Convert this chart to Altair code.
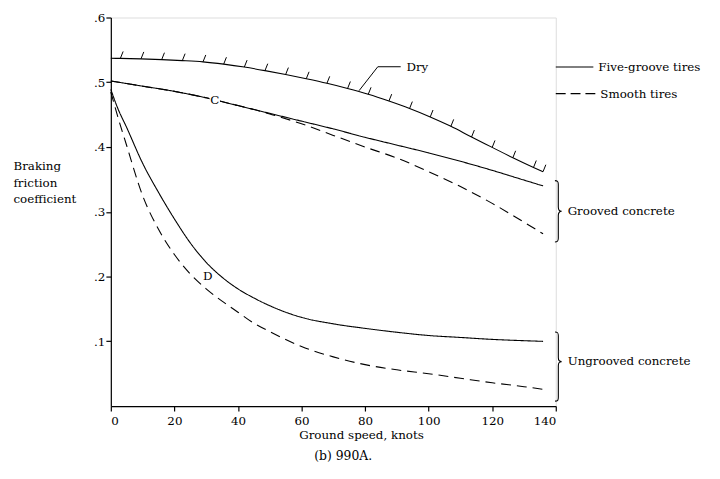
import altair as alt
import pandas as pd

FONT = "DejaVu Serif"

# ---- data ----
dry_speed = [0, 3, 9.5, 16, 22.5, 29, 35.5, 42, 48.5, 55, 61.5, 68, 74.5, 81, 87.5, 94, 100.5, 107, 113.5, 120, 126.5, 133, 136]
dry_value = [0.537, 0.5369, 0.5362, 0.5350, 0.5335, 0.5315, 0.528, 0.5235, 0.518, 0.512, 0.5055, 0.4985, 0.4905, 0.4815, 0.471, 0.4595, 0.4465, 0.432, 0.4155, 0.3995, 0.3835, 0.3685, 0.362]

c_speed = [0, 10, 20, 30, 40, 45, 50, 60, 70, 80, 90, 100, 110, 120, 130, 136]
c_five = [0.502, 0.494, 0.486, 0.476, 0.464, 0.458, 0.452, 0.440, 0.428, 0.415, 0.403, 0.391, 0.378, 0.364, 0.349, 0.340]
c_smooth = [0.502, 0.494, 0.486, 0.476, 0.464, 0.458, 0.451, 0.436, 0.418, 0.400, 0.383, 0.362, 0.339, 0.313, 0.284, 0.266]

d_speed = [0, 2, 5, 10, 15, 20, 25, 30, 35, 40, 45, 50, 60, 70, 80, 90, 100, 110, 120, 130, 136]
d_five = [0.489, 0.462, 0.430, 0.375, 0.330, 0.289, 0.252, 0.222, 0.199, 0.181, 0.167, 0.155, 0.137, 0.127, 0.120, 0.114, 0.109, 0.106, 0.103, 0.101, 0.100]
d_smooth = [0.485, 0.450, 0.402, 0.325, 0.273, 0.234, 0.204, 0.181, 0.162, 0.145, 0.128, 0.115, 0.092, 0.076, 0.064, 0.056, 0.050, 0.043, 0.036, 0.030, 0.026]

tires = ["Five-groove tires", "Smooth tires"]
x_tick_values = [0, 20, 40, 60, 80, 100, 120, 140]
y_tick_values = [0.1, 0.2, 0.3, 0.4, 0.5, 0.6]

leader_speed = [78.1, 84.0, 91.2]
leader_value = [0.487, 0.524, 0.524]

curve_labels = ["C", "D"]
curve_label_speed = [32.7, 30.5]
curve_label_value = [0.472, 0.2015]

# ---- tables ----
rows = []
for s, a, b in zip(c_speed, c_five, c_smooth):
    rows.append({"speed": s, "value": a, "curve": "C", "tire": tires[0]})
    rows.append({"speed": s, "value": b, "curve": "C", "tire": tires[1]})
for s, a, b in zip(d_speed, d_five, d_smooth):
    rows.append({"speed": s, "value": a, "curve": "D", "tire": tires[0]})
    rows.append({"speed": s, "value": b, "curve": "D", "tire": tires[1]})
curves = pd.DataFrame(rows)
curves["grp"] = curves["curve"] + curves["tire"]

dry = pd.DataFrame({"speed": dry_speed, "value": dry_value})
leader = pd.DataFrame({"speed": leader_speed, "value": leader_value, "k": [0, 1, 2]})
labels = pd.DataFrame({"speed": curve_label_speed, "value": curve_label_value, "t": curve_labels})

xs = alt.Scale(domain=[0, 140], nice=False, zero=False)
ys = alt.Scale(domain=[0, 0.6], nice=False)

x_axis = alt.Axis(
    values=x_tick_values, ticks=True, tickSize=5, tickColor="black", tickWidth=1.2,
    grid=False, domainColor="black", domainWidth=1.2,
    labelFont=FONT, labelFontSize=12, labelColor="black", labelPadding=5,
    title="Ground speed, knots", titleFont=FONT, titleFontSize=12, titleFontWeight="normal",
    titleColor="black", titleX=253, titleY=33, titleBaseline="alphabetic",
)
y_axis = alt.Axis(
    values=y_tick_values, ticks=True, tickSize=5, tickColor="black", tickWidth=1.2,
    grid=False, domainColor="black", domainWidth=1.2,
    labelFont=FONT, labelFontSize=12, labelColor="black", labelPadding=1,
    labelExpr="'.' + format(round(datum.value * 10), 'd')",
    title=["Braking", "friction", "coefficient"], titleFont=FONT, titleFontSize=12,
    titleFontWeight="normal", titleColor="black", titleAngle=0, titleAlign="left",
    titleX=-99, titleY=154, titleBaseline="alphabetic", titleLineHeight=16.5,
)

X = alt.X("speed:Q", scale=xs, axis=x_axis)
Y = alt.Y("value:Q", scale=ys, axis=y_axis)

lines = alt.Chart(curves).mark_line(color="black", strokeWidth=1.1, interpolate="monotone").encode(
    x=X, y=Y,
    detail="grp:N",
    strokeDash=alt.StrokeDash("tire:N", scale=alt.Scale(domain=tires, range=[[1, 0], [10, 6]]), legend=None),
)

dry_line = alt.Chart(dry).mark_line(color="black", strokeWidth=1.1, interpolate="monotone").encode(x=X, y=Y)
hatches = alt.Chart(dry).transform_filter("datum.speed > 0").mark_point(
    shape="M0,0L0.4,-1", size=196, filled=False, stroke="black", strokeWidth=1, opacity=1
).encode(x=X, y=Y)

leader_line = alt.Chart(leader).mark_line(color="black", strokeWidth=1).encode(x=X, y=Y, order="k:Q")
dry_text = alt.Chart(pd.DataFrame({"speed": [93.0], "value": [0.524], "t": ["Dry"]})).mark_text(
    font=FONT, fontSize=12, align="left", baseline="middle", color="black"
).encode(x=X, y=Y, text="t:N")

label_bg = alt.Chart(labels).transform_filter("datum.t == 'C'").mark_point(
    shape="square", size=110, filled=True, color="white", opacity=1
).encode(x=X, y=Y)
label_text = alt.Chart(labels).mark_text(
    font=FONT, fontSize=12, align="center", baseline="middle", color="black"
).encode(x=X, y=Y, text="t:N")

one = pd.DataFrame({"t": [""]})

def rule(x1, x2, y, dash):
    return alt.Chart(one).mark_rule(color="black", strokeWidth=1.1, strokeDash=dash).encode(
        x=alt.value(x1), x2=alt.value(x2), y=alt.value(y))

def text(s, x, y, align="left", size=12):
    return alt.Chart(pd.DataFrame({"t": [s]})).mark_text(
        font=FONT, fontSize=size, align=align, baseline="middle", color="black"
    ).encode(x=alt.value(x), y=alt.value(y), text="t:N")

legend_layers = [
    rule(450, 488, 50, [1, 0]),
    text(tires[0], 493, 50),
    rule(450, 491, 77, [10, 5]),
    text(tires[1], 495, 77),
]

brace1 = alt.Chart(one).mark_point(
    shape="M-0.06,-1 C0.03,-1 0.05,-0.97 0.05,-0.88 L0.05,-0.14 C0.05,-0.04 0.09,0 0.16,0 C0.09,0 0.05,0.04 0.05,0.14 L0.05,0.88 C0.05,0.97 0.03,1 -0.06,1",
    size=3844, filled=False, stroke="black", strokeWidth=1.1, opacity=1,
).encode(x=alt.value(451), y=alt.value(196))
brace2 = alt.Chart(one).mark_point(
    shape="M-0.05,-0.857 C0.03,-0.857 0.045,-0.83 0.045,-0.75 L0.045,-0.12 C0.045,-0.03 0.08,0 0.14,0 C0.08,0 0.045,0.03 0.045,0.12 L0.045,1.03 C0.045,1.12 0.03,1.143 -0.05,1.143",
    size=4900, filled=False, stroke="black", strokeWidth=1.1, opacity=1,
).encode(x=alt.value(451), y=alt.value(348))

caption = text("(b) 990A.", 235, 444, align="center", size=12.5)

chart = alt.layer(
    lines, dry_line, hatches, leader_line, dry_text, label_bg, label_text,
    *legend_layers,
    brace1, text("Grooved concrete", 462, 196), brace2, text("Ungrooved concrete", 462, 347),
    caption,
).properties(
    width=450, height=393,
    autosize=alt.AutoSizeParams(type="none"),
    padding={"left": 104, "top": 7, "right": 158, "bottom": 62},
).configure_view(stroke=None).configure(background="white")

chart.save("out.html", embed_options={"renderer": "svg", "actions": False})
